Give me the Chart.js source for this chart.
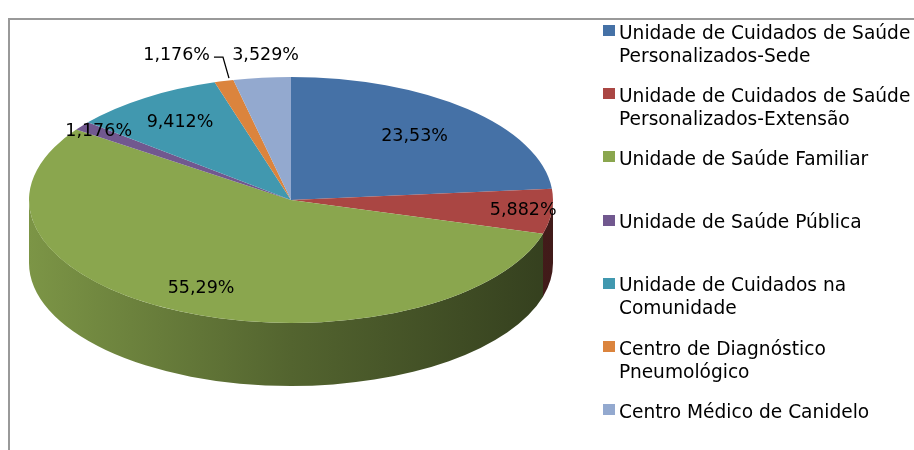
<!DOCTYPE html>
<html>
<head>
<meta charset="utf-8">
<script src="https://cdn.jsdelivr.net/npm/chart.js@4.4.1/dist/chart.umd.min.js"></script>
<style>
    body { margin: 0; background: #fff; }
    #wrap { position: relative; width: 914px; height: 450px; overflow: hidden; font-family: "DejaVu Sans", sans-serif; }
    #frame { position: absolute; left: 8px; top: 18px; width: 930px; height: 450px; border-top: 2px solid #999; border-left: 2px solid #999; }
    #chartBox { position: absolute; left: 0; top: 0; width: 914px; height: 450px; }
    #legend { position: absolute; left: 603px; top: 0; }
    .item { position: absolute; left: 0; white-space: nowrap; font-size: 18.6px; line-height: 23px; color: #000; }
    .item i { position: absolute; left: 0; top: 4.5px; width: 12px; height: 11px; }
    .item span { display: block; padding-left: 16px; }
</style>
</head>
<body>
<div id="wrap">
    <div id="frame"></div>
    <div id="chartBox"><canvas id="pieChart"></canvas></div>
    <div id="legend"></div>
</div>
<script>
    const categories = [
        ['Unidade de Cuidados de Saúde', 'Personalizados-Sede'],
        ['Unidade de Cuidados de Saúde', 'Personalizados-Extensão'],
        ['Unidade de Saúde Familiar'],
        ['Unidade de Saúde Pública'],
        ['Unidade de Cuidados na', 'Comunidade'],
        ['Centro de Diagnóstico', 'Pneumológico'],
        ['Centro Médico de Canidelo']
    ];
    const counts = [20, 5, 47, 1, 8, 1, 3];
    const colors = ['#4571a6', '#aa4643', '#8aa64e', '#71588f', '#4198af', '#db843d', '#93a9cf'];

    // ellipse the flat Chart.js pie is squashed into, plus side depth
    const ECX = 291, ECY = 200, RX = 262, RY = 123, DEPTH = 63;
    // label placement: 'in' at radius factor, 'lead' outside with leader line, 'out' outside
    const labelPlace = [['in', 0.7], ['in', 0.89], ['in', 0.8], ['in', 0.92], ['in', 0.76], ['lead', 1.0], ['out', 1.2]];
    const total = counts.reduce((a, b) => a + b, 0);

    function shade(hex, k) {
        const n = parseInt(hex.slice(1), 16);
        const r = Math.round(((n >> 16) & 255) * k), g = Math.round(((n >> 8) & 255) * k), b = Math.round((n & 255) * k);
        return `rgb(${r},${g},${b})`;
    }

    function pct(v) { return (v / total * 100).toPrecision(4).replace('.', ',') + '%'; }

    const pie3d = {
        id: 'pie3d',
        beforeDatasetsDraw(chart) {
            const ctx = chart.ctx;
            const arcs = chart.getDatasetMeta(0).data;
            const a0 = arcs[0];
            ctx.save();
            arcs.forEach((arc, i) => {
                const s = Math.max(arc.startAngle, 0), e = Math.min(arc.endAngle, Math.PI);
                if (e <= s) return;
                const g = ctx.createLinearGradient(ECX - RX, 0, ECX + RX, 0);
                g.addColorStop(0, shade(colors[i], 0.9));
                g.addColorStop(0.5, shade(colors[i], 0.6));
                g.addColorStop(1, shade(colors[i], 0.38));
                ctx.beginPath();
                ctx.ellipse(ECX, ECY, RX, RY, 0, s, e);
                ctx.ellipse(ECX, ECY + DEPTH, RX, RY, 0, e, s, true);
                ctx.closePath();
                ctx.fillStyle = g;
                ctx.fill();
            });
            ctx.translate(ECX, ECY);
            ctx.scale(RX / a0.outerRadius, RY / a0.outerRadius);
            ctx.translate(-a0.x, -a0.y);
        },
        afterDatasetsDraw(chart) {
            const ctx = chart.ctx;
            ctx.restore();
            const arcs = chart.getDatasetMeta(0).data;
            ctx.save();
            ctx.font = '17.5px "DejaVu Sans"';
            ctx.fillStyle = '#000';
            ctx.textBaseline = 'middle';
            arcs.forEach((arc, i) => {
                const mid = (arc.startAngle + arc.endAngle) / 2;
                const [mode, f] = labelPlace[i];
                const x = ECX + f * RX * Math.cos(mid), y = ECY + f * RY * Math.sin(mid);
                if (mode === 'lead') {
                    ctx.textAlign = 'right';
                    ctx.fillText(pct(counts[i]), x - 14, y - 26);
                    ctx.strokeStyle = '#000';
                    ctx.lineWidth = 1.3;
                    ctx.beginPath();
                    ctx.moveTo(x - 10, y - 24);
                    ctx.lineTo(x - 1, y - 24);
                    ctx.lineTo(x + 5, y - 3);
                    ctx.stroke();
                } else if (mode === 'out') {
                    ctx.textAlign = 'left';
                    ctx.fillText(pct(counts[i]), x - 24, y + 2);
                } else {
                    ctx.textAlign = 'center';
                    ctx.fillText(pct(counts[i]), x, y);
                }
            });
            ctx.restore();
        }
    };

    function buildLegend() {
        const legend = document.getElementById('legend');
        let html = '';
        categories.forEach((lines, i) => {
            html += `<div class="item" style="top:${20.5 + i * 63.2}px"><i style="background:${colors[i]}"></i><span>${lines.join('<br>')}</span></div>`;
        });
        legend.innerHTML = html;
    }

    function createPieChart() {
        const ctx = document.getElementById('pieChart').getContext('2d');
        new Chart(ctx, {
            type: 'pie',
            data: {
                labels: categories.map(l => l.join(' ')),
                datasets: [{ data: counts, backgroundColor: colors, borderWidth: 0 }]
            },
            options: {
                responsive: true, maintainAspectRatio: false, animation: false,
                layout: { padding: 20 },
                plugins: { legend: { display: false }, tooltip: { enabled: false } }
            },
            plugins: [pie3d]
        });
    }

    buildLegend();
    createPieChart();
</script>
</body>
</html>
